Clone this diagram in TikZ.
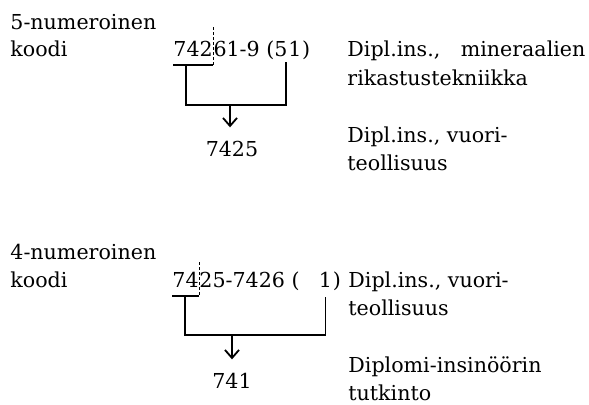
\documentclass[tikz,border=0pt]{standalone}
\usepackage{fontspec}
\setmainfont{DejaVu Serif}
\usetikzlibrary{arrows.meta}

\begin{document}
\begin{tikzpicture}[x=0.5pt, y=-0.5pt,
    txt/.style={inner sep=0pt, anchor=base west, font=\fontsize{10.3}{12}\selectfont},
    link/.style={line width=0.9pt},
    cut/.style={line width=0.5pt, dash pattern=on 1.5pt off 1pt},
    arr/.style={link, shorten >=6.5pt, -{Straight Barb[length=4pt, width=7pt]}}]
  \useasboundingbox (0,0) rectangle (589,404);
  % 5-numeroinen koodi
  \node[txt] (lab5) at (10,29) {5-numeroinen};
  \node[txt] (kood5) at (10,56) {koodi};
  \node[txt] (pre5) at (173,56) {742};
  \node[txt] (mid5) at (pre5.base east) {61-9 (5};
  \node[txt] (one5) at (mid5.base east) {1};
  \node[txt] (end5) at (one5.base east) {)};
  \node[txt] (mine) at (347,56) {\makebox[119pt][s]{Dipl.ins., mineraalien}};
  \node[txt] (rika) at (347,85) {rikastustekniikka};
  \node[txt] (vuo5) at (347,142) {Dipl.ins., vuori-};
  \node[txt] (teo5) at (347,170) {teollisuus};
  \node[txt, anchor=base] (res5) at (232,156) {7425};
  \coordinate (j5) at (230,105);
  \draw[link] ([yshift=-4.5pt]pre5.base west) -- ([yshift=-4.5pt]pre5.base east);
  \draw[cut] ([yshift=14.5pt]pre5.base east) -- ([yshift=-5pt]pre5.base east);
  \draw[link] ([xshift=6.5pt,yshift=-4.5pt]pre5.base west) |- (j5) -| ([xshift=-1pt,yshift=-3pt]one5.base west);
  \draw[arr] (j5) -- (j5 |- res5.north);
  % 4-numeroinen koodi
  \node[txt] (lab4) at (10,259) {4-numeroinen};
  \node[txt] (kood4) at (10,287) {koodi};
  \node[txt] (pre4) at (172,287) {74};
  \node[txt] (mid4) at (pre4.base east) {25-7426 (\hspace{0.9em}\mbox{}};
  \node[txt] (one4) at (mid4.base east) {1};
  \node[txt] (end4) at (one4.base east) {)};
  \node[txt] (vuo4) at (348,287) {Dipl.ins., vuori-};
  \node[txt] (teo4) at (348,315) {teollisuus};
  \node[txt] (dipl) at (348,372) {Diplomi-insinöörin};
  \node[txt] (tutk) at (348,400) {tutkinto};
  \node[txt, anchor=base] (res4) at (232,388) {741};
  \coordinate (j4) at (232,335);
  \draw[link] ([yshift=-4.5pt]pre4.base west) -- ([yshift=-4.5pt]pre4.base east);
  \draw[cut] ([yshift=12.5pt]pre4.base east) -- ([yshift=-5pt]pre4.base east);
  \draw[link] ([xshift=6.5pt,yshift=-4.5pt]pre4.base west) |- (j4) -| ([yshift=-5pt]one4.base);
  \draw[arr] (j4) -- (j4 |- res4.north);
\end{tikzpicture}
\end{document}
